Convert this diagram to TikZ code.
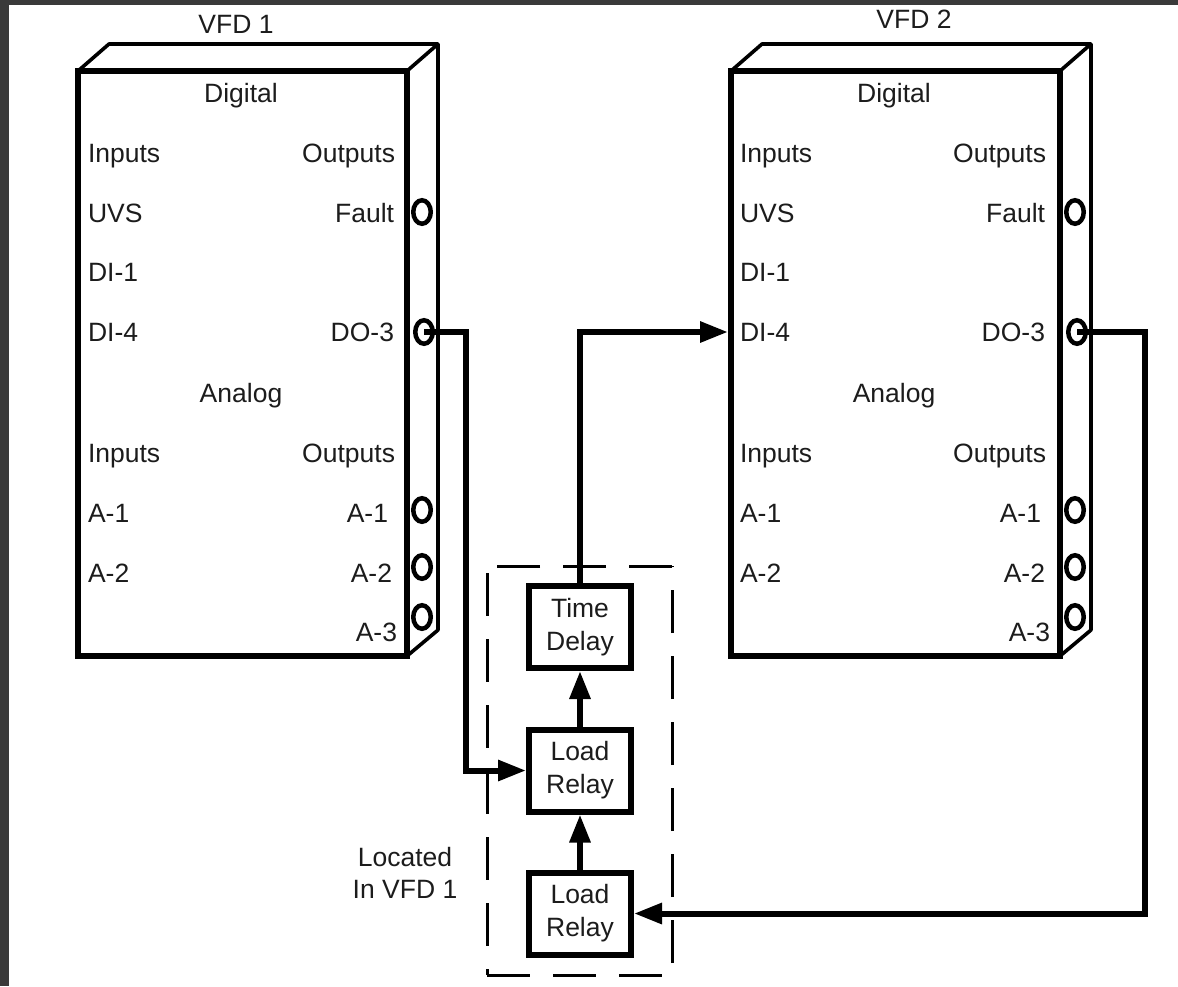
\documentclass[tikz,border=0pt]{standalone}
\usepackage{fontspec}
\setmainfont{Liberation Sans}
\usetikzlibrary{arrows.meta,shapes.geometric}
\definecolor{frame}{HTML}{3A3A3A}
\definecolor{ink}{HTML}{1C1C1C}
\tikzset{
  lbl/.style={inner sep=0pt,outer sep=0pt,text=ink,font=\fontsize{26.5}{32}\selectfont},
  lw/.style={lbl,anchor=base west},
  le/.style={lbl,anchor=base east},
  lc/.style={lbl,anchor=base},
  front/.style={draw=black,line width=6pt,rectangle,minimum width=329pt,minimum height=585pt,inner sep=0pt,outer sep=0pt},
  edge3d/.style={draw=black,line width=3.6pt,line join=round},
  port/.style={draw=black,ellipse,line width=4.5pt,minimum width=17.5pt,minimum height=23.5pt,inner sep=0pt,outer sep=0pt},
  relaybox/.style={draw=black,line width=6pt,rectangle,minimum width=102pt,minimum height=82pt,inner sep=0pt,align=center,text=ink,font=\fontsize{26.5}{33}\selectfont},
  conn/.style={draw=black,line width=6pt,line join=miter,-{Triangle[length=28pt,width=20pt]}},
  dashbox/.style={draw=black,line width=3pt,dash pattern=on 43pt off 23pt},
}
% #1 prefix, #2 x offset, #3 right-column offset, #4 left-column x
\newcommand{\vfdunit}[4]{%
  \node[front] (#1front) at ({242.5+#2},363.5) {};
  \coordinate (#1bl) at ({109+#2},44);
  \coordinate (#1br) at ({438+#2},44);
  \coordinate (#1bb) at ({438+#2},630);
  \draw[edge3d] (#1front.north west) -- (#1bl) -- (#1br) -- (#1bb) -- (#1front.south east);
  \draw[edge3d] (#1front.north east) -- (#1br);
  \node[lc] (#1digital) at ({241+#2},102) {Digital};
  \node[lw] (#1inputs) at (#4,162) {Inputs};
  \node[le] (#1outputs) at ({395+#2+#3},162) {Outputs};
  \node[lw] (#1uvs) at (#4,222) {UVS};
  \node[le] (#1fault) at ({394+#2+#3},222) {Fault};
  \node[lw] (#1dia) at (#4,281) {DI-1};
  \node[lw] (#1dib) at (#4,341) {DI-4};
  \node[le] (#1do) at ({394+#2+#3},341) {DO-3};
  \node[lc] (#1analog) at ({241+#2},402) {Analog};
  \node[lw] (#1ainputs) at (#4,462) {Inputs};
  \node[le] (#1aoutputs) at ({395+#2+#3},462) {Outputs};
  \node[lw] (#1aia) at (#4,522) {A-1};
  \node[lw] (#1aib) at (#4,582) {A-2};
  \node[le] (#1aoa) at ({388+#2},522) {A-1};
  \node[le] (#1aob) at ({392+#2},582) {A-2};
  \node[le] (#1aoc) at ({397+#2},641) {A-3};
  \node[port] (#1pfault) at ({422+#2},212) {};
  \node[port] (#1pdo) at ({424+#2},332) {};
  \node[port] (#1pa) at ({422+#2},510) {};
  \node[port] (#1pb) at ({422+#2},567) {};
  \node[port] (#1pc) at ({422+#2},617) {};
}
\begin{document}
\begin{tikzpicture}[x=1pt,y=-1pt]
\useasboundingbox (0,0) rectangle (1178,986);
\fill[frame] (0,0) rectangle (1178,986);
\fill[white] (9,5) rectangle (1178,986);
\vfdunit{a}{0}{0}{88}
\vfdunit{b}{653}{-2}{740}
\node[lc] (vfda) at (236,33) {VFD 1};
\node[lc] (vfdb) at (914,28) {VFD 2};
% dashed enclosure
\coordinate (dtl) at (487,566);
\coordinate (dbl) at (487,975);
\coordinate (dbr) at (672,975);
\coordinate (dtr) at (672,566);
\draw[dashbox] (487,573) -- (dbl);
\draw[dashbox] (dbl) -- (dbr);
\draw[dashbox] (672,963) -- (dtr);
\draw[dashbox] (dtr) -- (dtl);
% relay boxes
\node[relaybox] (delay) at (580,627) {Time\\Delay};
\node[relaybox] (relaya) at (580,770.5) {Load\\Relay};
\node[relaybox] (relayb) at (580,913.5) {Load\\Relay};
\node[lbl,align=center,font=\fontsize{26.5}{32}\selectfont] (located) at (405,873) {Located\\In VFD 1};
% connectors
\coordinate (benda) at (466,550);
\coordinate (bendb) at (1145,600);
\coordinate (dientry) at (728,332);
\draw[conn] (apdo.center) -| (benda) |- (relaya.west);
\draw[conn] (delay.north) |- (dientry);
\draw[conn] (bpdo.center) -| (bendb) |- (relayb.east);
\draw[conn] (relaya.north) -- (delay.south);
\draw[conn] (relayb.north) -- (relaya.south);
\end{tikzpicture}
\end{document}
